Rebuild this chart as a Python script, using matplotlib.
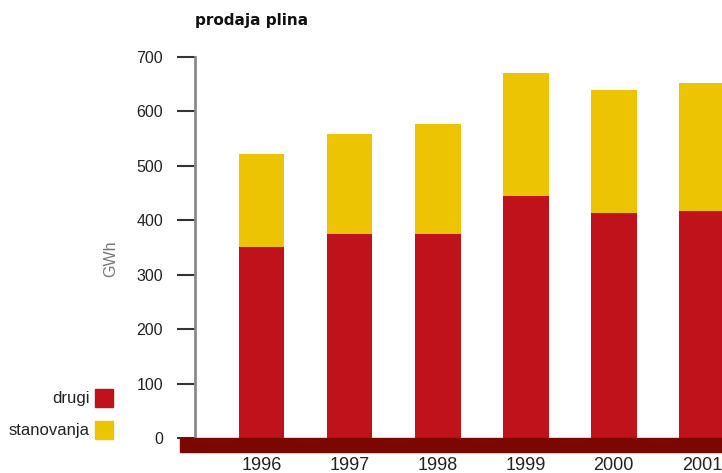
import matplotlib.pyplot as plt
from matplotlib.patches import Rectangle

plt.rcParams['font.family'] = ['Liberation Sans', 'DejaVu Sans']

years = ['1996', '1997', '1998', '1999', '2000', '2001']
drugi = [351, 375, 375, 444, 413, 417]
stanovanja = [171, 184, 202, 227, 226, 235]
series_names = ['drugi', 'stanovanja']
colors = ['#c0121a', '#ecc403']
yticks = [0, 100, 200, 300, 400, 500, 600, 700]

fig = plt.figure(figsize=(7.22, 4.73), dpi=100)
ax = fig.add_axes([195 / 722, 35 / 473, 527 / 722, 381 / 473])

x = range(len(years))
ax.bar(x, drugi, width=0.52, color=colors[0], zorder=2)
ax.bar(x, stanovanja, width=0.52, bottom=drugi, color=colors[1], zorder=2)

ax.set_xlim(-0.756, 5.23)
ax.set_ylim(0, 700)
ax.set_yticks(yticks)
ax.set_xticks(list(x))
ax.set_xticklabels(years, fontsize=13, color='#222222')
ax.tick_params(axis='x', length=0, pad=13.5)
ax.tick_params(axis='y', length=13, width=1.5, color='#333333', pad=10,
               labelsize=11.5, labelcolor='#222222')

for s in ['top', 'right', 'bottom']:
    ax.spines[s].set_visible(False)
ax.spines['left'].set_color('#8a8a8a')
ax.spines['left'].set_linewidth(2)

# dark base band under zero
ax.add_patch(Rectangle((-15 / 527, 0), 1 + 15 / 527, -14 / 381,
                       transform=ax.transAxes, color='#7a0800',
                       clip_on=False, zorder=3))

ax.set_ylabel('GWh', color='#777777', fontsize=11.5)
ax.yaxis.set_label_coords(-77 / 527, 0.47)

fig.text(195 / 722, 1 - 20 / 473, 'prodaja plina', fontsize=11,
         fontweight='bold', family='DejaVu Sans', color='#111111',
         va='center', ha='left')

# legend drawn by hand, boxes to the right of the labels
for i, name in enumerate(series_names):
    yc = 398 + i * 32
    fig.patches.append(Rectangle((95 / 722, 1 - (yc + 9) / 473), 18 / 722, 18 / 473,
                                 transform=fig.transFigure, color=colors[i]))
    fig.text(90 / 722, 1 - yc / 473, name, fontsize=12, color='#222222',
             ha='right', va='center')

fig.savefig('out.png', dpi=100)
